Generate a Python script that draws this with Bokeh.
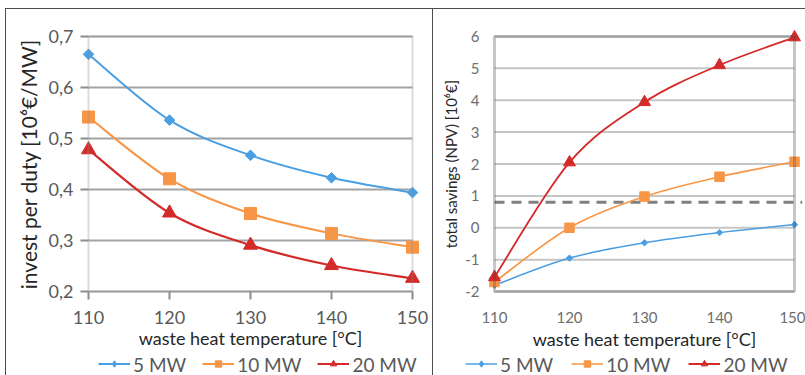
import numpy as np
from bokeh.plotting import figure
from bokeh.layouts import row, column
from bokeh.models import (Range1d, FixedTicker, CustomJSTickFormatter, Legend,
                          LegendItem, BoxAnnotation)
from bokeh.embed import file_html
from bokeh.resources import INLINE

# ---------------- data ----------------
temps = [110, 120, 130, 140, 150]
series_names = ["5 MW", "10 MW", "20 MW"]

invest_5 = [0.665, 0.536, 0.467, 0.423, 0.394]
invest_10 = [0.542, 0.421, 0.353, 0.314, 0.287]
invest_20 = [0.478, 0.354, 0.291, 0.251, 0.226]

savings_5 = [-1.80, -0.95, -0.47, -0.15, 0.10]
savings_10 = [-1.70, 0.00, 0.98, 1.60, 2.07]
savings_20 = [-1.55, 2.05, 3.94, 5.10, 5.97]

threshold = 0.8

x_ticks = [110, 120, 130, 140, 150]
left_y_ticks = [0.2, 0.3, 0.4, 0.5, 0.6, 0.7]
right_y_ticks = [-2, -1, 0, 1, 2, 3, 4, 5, 6]

# ---------------- styles ----------------
COLORS = ["#4a9fe3", "#f79646", "#d42a2a"]
FONT = "Lato"
LINE_CSS = "linear-gradient(#4d4d4d, #4d4d4d)"
CHART_H = 352
LEG_H = 23
TOTAL_W = 805


def smooth_segments(xs, ys):
    """Bezier control points (Catmull-Rom style) through the data points."""
    x = np.asarray(xs, float)
    y = np.asarray(ys, float)
    xp = np.concatenate([[x[0]], x, [x[-1]]])
    yp = np.concatenate([[y[0]], y, [y[-1]]])
    seg = dict(x0=[], y0=[], x1=[], y1=[], cx0=[], cy0=[], cx1=[], cy1=[])
    for i in range(len(x) - 1):
        j = i + 1
        seg["x0"].append(xp[j]); seg["y0"].append(yp[j])
        seg["x1"].append(xp[j + 1]); seg["y1"].append(yp[j + 1])
        seg["cx0"].append(xp[j] + (xp[j + 1] - xp[j - 1]) / 6)
        seg["cy0"].append(yp[j] + (yp[j + 1] - yp[j - 1]) / 6)
        seg["cx1"].append(xp[j + 1] - (xp[j + 2] - xp[j]) / 6)
        seg["cy1"].append(yp[j + 1] - (yp[j + 2] - yp[j]) / 6)
    return seg


def add_series(p, ys_list, lw_list, marker_specs):
    for ys, color, lw, (marker, sz, ang) in zip(ys_list, COLORS, lw_list, marker_specs):
        seg = smooth_segments(temps, ys)
        p.bezier(source=seg, x0="x0", y0="y0", x1="x1", y1="y1",
                 cx0="cx0", cy0="cy0", cx1="cx1", cy1="cy1",
                 line_color=color, line_width=lw)
        p.scatter(temps, ys, marker=marker, size=sz, angle=ang,
                  fill_color=color, line_color=color)


def add_legend(lf, ys_list, lw_list, legend_markers, x_off, spacing):
    # series are drawn out of the strip's view; only the legend glyphs show
    items = []
    for name, ys, color, lw, (marker, sz) in zip(series_names, ys_list, COLORS,
                                                lw_list, legend_markers):
        lr = lf.line(x=temps, y=ys, line_color=color, line_width=lw)
        sr = lf.scatter(x=temps, y=ys, marker=marker, size=sz,
                        fill_color=color, line_color=color)
        items.append(LegendItem(label=name, renderers=[lr, sr]))
    leg = Legend(items=items, orientation="horizontal", location="left",
                 label_text_font=FONT, label_text_font_size="19px",
                 label_text_color="#595959", glyph_width=32, glyph_height=16,
                 label_height=16, label_standoff=3, spacing=spacing, padding=0,
                 margin=x_off, background_fill_alpha=0, border_line_color=None)
    lf.add_layout(leg, "center")


def grid_segments(p, yticks, color, width):
    p.segment(x0=[x_ticks[0]] * len(yticks), x1=[x_ticks[-1]] * len(yticks),
              y0=yticks, y1=yticks, line_color=color, line_width=width)


def style_axis(ax, tick_size, label_size, tick_color):
    ax.axis_line_color = None
    ax.minor_tick_line_color = None
    ax.major_label_text_font = FONT
    ax.major_label_text_font_size = tick_size
    ax.major_label_text_color = tick_color
    ax.axis_label_text_font = FONT
    ax.axis_label_text_font_size = label_size
    ax.axis_label_text_font_style = "normal"
    ax.axis_label_text_color = "#262626"


# ---------------- left figure ----------------
PAD = 8
lx_pad = PAD * 40 / 324
ly_pad = PAD * 0.5 / 257
p1 = figure(width=433, height=CHART_H, output_backend="svg", toolbar_location=None,
            x_range=Range1d(110 - lx_pad, 150 + lx_pad),
            y_range=Range1d(0.2 - ly_pad, 0.7 + ly_pad),
            min_border_left=80, min_border_right=13, min_border_top=27,
            min_border_bottom=CHART_H - 300, border_fill_color=None,
            outline_line_color=None)
p1.grid.grid_line_color = None
grid_segments(p1, left_y_ticks, "#a3a3a3", 2)
p1.add_layout(BoxAnnotation(left=x_ticks[0], right=x_ticks[-1],
                            bottom=left_y_ticks[0], top=left_y_ticks[-1],
                            fill_alpha=0, line_color="#8c8c8c", line_width=2))
p1.xaxis.ticker = FixedTicker(ticks=x_ticks)
p1.yaxis.ticker = FixedTicker(ticks=left_y_ticks)
p1.yaxis.formatter = CustomJSTickFormatter(
    code="return tick.toFixed(1).replace('.', ',');")
for ax in (p1.xaxis[0], p1.yaxis[0]):
    style_axis(ax, "18px", "18px", "#595959")
    ax.major_tick_line_color = "#8c8c8c"
    ax.major_tick_line_width = 2
    ax.major_tick_in = PAD
    ax.major_tick_out = 0
p1.xaxis.major_label_standoff = 11
p1.xaxis.axis_label = "waste heat temperature [°C]"
p1.xaxis.axis_label_standoff = 0
p1.yaxis.major_label_standoff = 7
p1.yaxis.axis_label = "invest per duty [10⁶€/MW]"
p1.yaxis.axis_label_text_font_size = "21px"
p1.yaxis.axis_label_standoff = 5

left_lw = [2, 2, 2.2]
left_markers = [("square", 7.5, np.pi / 4), ("square", 12, 0), ("triangle", 14, 0)]
left_series = [invest_5, invest_10, invest_20]
add_series(p1, left_series, left_lw, left_markers)

# ---------------- right figure ----------------
rx_pad = PAD * 40 / 301
ry_pad = PAD * 8 / 258
p2 = figure(width=TOTAL_W - 433, height=CHART_H, output_backend="svg",
            toolbar_location=None,
            x_range=Range1d(110 - rx_pad, 150 + rx_pad),
            y_range=Range1d(-2 - ry_pad, 6 + ry_pad),
            min_border_left=53, min_border_right=3, min_border_top=28,
            min_border_bottom=CHART_H - 302, border_fill_color=None,
            outline_line_color=None)
p2.grid.grid_line_color = None
grid_segments(p2, right_y_ticks, "#c6c6c6", 2)
p2.xaxis.ticker = FixedTicker(ticks=x_ticks)
p2.yaxis.ticker = FixedTicker(ticks=right_y_ticks)
p2.yaxis.formatter = CustomJSTickFormatter(code="return tick.toString();")
for ax in (p2.xaxis[0], p2.yaxis[0]):
    style_axis(ax, "15px", "18px", "#6e6e6e")
    ax.major_tick_line_color = None
p2.xaxis.major_label_standoff = 6
p2.xaxis.axis_label = "waste heat temperature [°C]"
p2.xaxis.axis_label_standoff = 2
p2.yaxis.major_label_standoff = 1
p2.yaxis.axis_label = "total savings (NPV) [10⁶€]"
p2.yaxis.axis_label_text_font_size = "15px"
p2.yaxis.axis_label_standoff = 2

p2.segment(x0=[x_ticks[0]], x1=[p2.x_range.end], y0=[threshold], y1=[threshold],
           line_color="#808080", line_width=3, line_dash="10 7")
p2.add_layout(BoxAnnotation(left=x_ticks[0], right=x_ticks[-1],
                            bottom=right_y_ticks[0], top=right_y_ticks[-1],
                            fill_alpha=0, line_color="#454545", line_width=3))
right_lw = [1.5, 1.6, 1.8]
right_markers = [("square", 4.5, np.pi / 4), ("square", 9.5, 0), ("triangle", 12, 0)]
right_series = [savings_5, savings_10, savings_20]
add_series(p2, right_series, right_lw, right_markers)

# ---------------- legend strip (both legends) ----------------
lf = figure(width=TOTAL_W, height=LEG_H, output_backend="svg",
            toolbar_location=None, x_range=Range1d(0, 1), y_range=Range1d(0, 1),
            min_border=0, border_fill_color=None, background_fill_color=None,
            outline_line_color=None, x_axis_type=None, y_axis_type=None,
            title=None)
lf.grid.grid_line_color = None
add_legend(lf, left_series, left_lw,
           [("diamond", 10), ("square", 12), ("triangle", 13)], 98, 16)
add_legend(lf, right_series, right_lw,
           [("diamond", 8), ("square", 10), ("triangle", 12)], 465, 18)

layout = column(row(p1, p2, spacing=0), lf, spacing=0)
layout.styles = {
    "background-image": f"{LINE_CSS}, {LINE_CSS}, {LINE_CSS}",
    "background-position": "5px 8px, 5px 8px, 432px 8px",
    "background-size": "1px 100%, 100% 1px, 1px 100%",
    "background-repeat": "no-repeat",
}
open("out.html", "w").write(file_html(layout, INLINE))
